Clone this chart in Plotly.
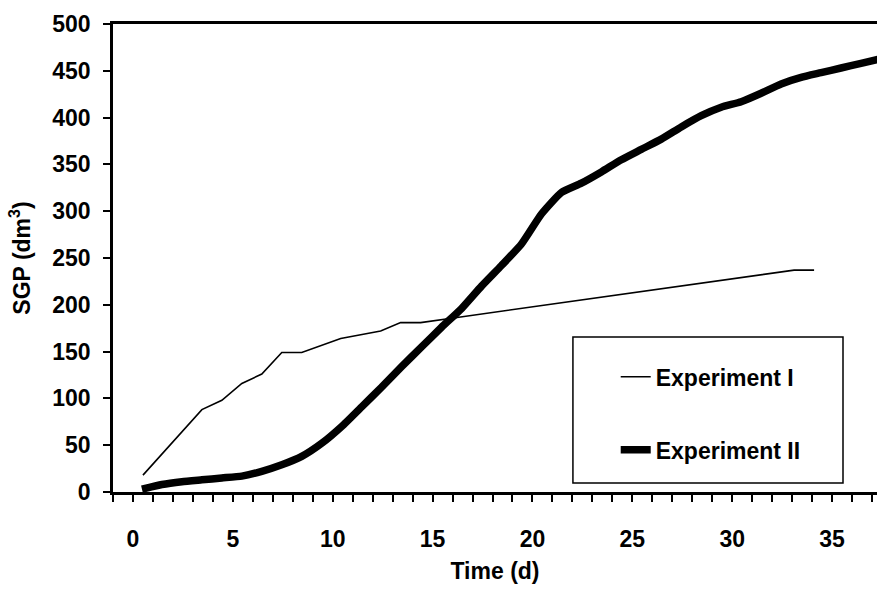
import plotly.graph_objects as go

# Experiment I (thin line)
t_exp1 = [0.5, 3.45, 4.45, 5.45, 6.45, 7.45, 8.45, 9.45, 10.4, 11.4, 12.4, 13.4, 14.4,
          16.4, 20.4, 25.4, 30.4, 33.1, 34.1]
sgp_exp1 = [18, 88, 98, 116, 126, 149, 149, 157, 164, 168, 172, 181, 181,
            187, 199, 214, 229, 237, 237]

# Experiment II (thick line)
t_exp2 = [0.45, 1.45, 2.45, 3.45, 4.45, 5.45, 6.45, 7.45, 8.45, 9.45, 10.45, 11.45,
          12.45, 13.45, 14.45, 15.45, 16.45, 17.45, 18.45, 19.45, 20.45, 21.45, 22.45,
          23.45, 24.45, 25.45, 26.45, 27.45, 28.45, 29.45, 30.45, 31.45, 32.45, 33.45,
          34.45, 35.45, 36.45, 37.45]
sgp_exp2 = [3, 8, 11, 13, 15, 17, 22, 29, 38, 52, 70, 91,
            112, 134, 155, 176, 196, 220, 242, 265, 297, 320, 330,
            342, 355, 366, 377, 390, 402, 411, 417, 426, 436, 443,
            448, 453, 458, 463]

x_tick_vals = [0, 5, 10, 15, 20, 25, 30, 35]
y_tick_vals = [0, 50, 100, 150, 200, 250, 300, 350, 400, 450, 500]

FONT = "Liberation Sans, Arial, sans-serif"

fig = go.Figure()
fig.add_trace(go.Scatter(
    x=t_exp1, y=sgp_exp1, mode="lines", name="Experiment I",
    line=dict(color="black", width=1.6), legendgroup="a"))
fig.add_trace(go.Scatter(
    x=t_exp2, y=sgp_exp2, mode="lines", name="Experiment II",
    line=dict(color="black", width=7.5, shape="spline", smoothing=0.5), legendgroup="b"))

fig.update_layout(
    width=877, height=590,
    margin=dict(l=113, r=0, t=24, b=98),
    plot_bgcolor="white", paper_bgcolor="white",
    font=dict(family=FONT, size=23, color="black", weight="bold"),
    showlegend=True,
    legend=dict(x=0.658, y=0.292, xanchor="left", yanchor="top",
                bgcolor="rgba(0,0,0,0)", borderwidth=0,
                tracegroupgap=40, font=dict(size=23, color="black", weight="bold")),
    xaxis=dict(
        range=[-1, 37.25], showgrid=False, zeroline=False,
        showline=True, linecolor="black", linewidth=2.5, mirror=True,
        tickmode="array", tickvals=x_tick_vals, ticktext=[str(v) for v in x_tick_vals],
        ticks="outside", ticklen=7, tickwidth=1.5, tickcolor="black",
        minor=dict(dtick=1, tick0=0, ticks="outside", ticklen=7, tickwidth=1.5, tickcolor="black"),
        ticklabelstandoff=18,
        title=dict(text="Time (d)", standoff=12, font=dict(size=23, weight="bold")),
    ),
    yaxis=dict(
        range=[0, 500], showgrid=False, zeroline=False,
        showline=True, linecolor="black", linewidth=2.5,
        tickmode="array", tickvals=y_tick_vals, ticktext=[str(v) for v in y_tick_vals],
        ticks="outside", ticklen=7, tickwidth=1.5, tickcolor="black",
        ticklabelstandoff=8,
        title=dict(text="SGP (dm<sup>3</sup>)", standoff=16, font=dict(size=23, weight="bold")),
    ),
    shapes=[dict(type="rect", xref="paper", yref="paper",
                 x0=0.602, x1=0.9555, y0=0.0192, y1=0.331,
                 line=dict(color="black", width=1.5), fillcolor="rgba(0,0,0,0)")],
)

fig.write_html("out.html", config={"displayModeBar": False},
               post_script="document.body.style.margin='0';document.body.style.padding='0';")
